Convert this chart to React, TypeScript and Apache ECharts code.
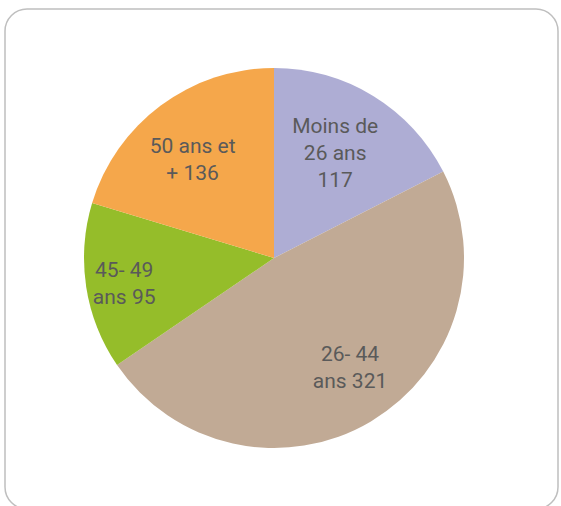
import React, { useEffect, useRef } from "react";
import * as echarts from "echarts";

const categories = ["Moins de 26 ans", "26- 44 ans", "45- 49 ans", "50 ans et +"];
const values = [117, 321, 95, 136];
const labelPrefixes = ["Moins de\n26 ans\n", "26- 44\nans ", "45- 49\nans ", "50 ans et\n+ "];
const colors = ["#AEADD4", "#C1AA95", "#95BD2A", "#F5A74B"];
const labelOffsets = [[10, -21], [26, 25], [-53, 11], [-23, -20]];

export default function App() {
  const ref = useRef<HTMLDivElement>(null);
  useEffect(() => {
    if (!ref.current) return;
    const chart = echarts.init(ref.current, null, { renderer: "svg" });
    chart.setOption({
      animation: false,
      backgroundColor: "#ffffff",
      graphic: [
        {
          type: "rect",
          shape: { x: 5, y: 9, width: 553, height: 500, r: 22 },
          style: { fill: "none", stroke: "#BFBFBF", lineWidth: 1.5 },
          z: 0,
        },
      ],
      series: [
        {
          type: "pie",
          center: [274, 258],
          radius: [0, 190],
          startAngle: 90,
          clockwise: true,
          avoidLabelOverlap: false,
          itemStyle: { borderWidth: 0 },
          emphasis: { disabled: true },
          label: {
            show: true,
            position: "inside",
            color: "#5A5A5A",
            fontFamily: "Roboto, 'Noto Sans', sans-serif",
            fontSize: 21,
            lineHeight: 27,
            align: "center",
          },
          labelLine: { show: false },
          data: categories.map((name, i) => ({
            name,
            value: values[i],
            itemStyle: { color: colors[i] },
            label: {
              formatter: labelPrefixes[i] + values[i],
              offset: labelOffsets[i],
            },
          })),
        },
      ],
    });
    return () => chart.dispose();
  }, []);
  return (
    <div
      ref={ref}
      style={{ position: "fixed", left: 0, top: 0, width: 561, height: 506 }}
    />
  );
}
